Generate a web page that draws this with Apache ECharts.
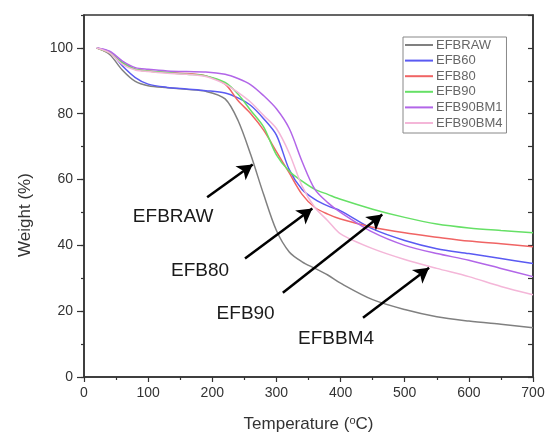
<!DOCTYPE html>
<html>
<head>
<meta charset="utf-8">
<script src="https://cdn.jsdelivr.net/npm/echarts@6/dist/echarts.min.js"></script>
<style>
  html, body { margin: 0; padding: 0; background: #fff; }
  #chart { width: 547px; height: 434px; }
</style>
</head>
<body>
<div id="chart"></div>
<script>
// temperatures shared by all curves (ºC)
const temps = [20, 40, 60, 80, 100, 130, 160, 190, 220, 240, 260, 280, 300, 320, 340, 360, 380, 400, 450, 500, 550, 600, 650, 700];

// weight (%)
const efbRaw   = [100, 98, 93.2, 89.8, 88.5, 87.9, 87.4, 86.8, 84.5, 78, 67.5, 55.5, 44.5, 38, 35, 33, 31, 28.5, 23.5, 20.5, 18.3, 17, 16, 15];
const efb60    = [100, 98.8, 94.5, 91, 89, 88, 87.5, 87, 86.3, 84.8, 82.5, 78.5, 73.5, 63, 57, 54, 52, 50.5, 45, 41.5, 39, 37.5, 36, 34.5];
const efb80    = [100, 98.5, 95.5, 93.5, 93, 92.5, 92.2, 91.5, 89, 84, 80, 75, 68.5, 62, 55.5, 51.5, 49.5, 48, 45.5, 43.8, 42.5, 41.3, 40.5, 39.6];
const efb90    = [100, 98.5, 95.5, 93.5, 93, 92.5, 92, 91.5, 89.5, 86, 81, 76, 67.5, 62.5, 59.5, 57, 55.5, 54, 51, 48.5, 46.5, 45.3, 44.5, 43.8];
const efb90bm1 = [100, 99, 96, 94, 93.5, 93, 92.8, 92.7, 92, 90.7, 88.8, 85.5, 81.5, 75.5, 65.5, 57, 53, 50, 44, 40, 37.5, 35.5, 33, 30.5];
const efb90bm4 = [100, 98.5, 95, 93.3, 92.8, 92.3, 92, 91.3, 89, 86.5, 83.5, 79.5, 75.5, 68, 58, 51.5, 47.5, 43.5, 39, 35.7, 33, 30.5, 27.5, 25];

const names  = ['EFBRAW', 'EFB60', 'EFB80', 'EFB90', 'EFB90BM1', 'EFB90BM4'];
const values = [efbRaw, efb60, efb80, efb90, efb90bm1, efb90bm4];
const colors = ['#808080', '#5a5af2', '#f06464', '#66e066', '#b266e8', '#f4b6d8'];

// arrow annotations (data coordinates)
const noteTexts = ['EFBRAW', 'EFB80', 'EFB90', 'EFBBM4'];
const noteAt    = [[139, 48.8], [181, 32.3], [252, 19.2], [393, 11.6]];
const arrowFrom = [[192, 54.6], [251, 36.0], [310, 25.6], [435, 18.0]];
const arrowTo   = [[263, 64.6], [356, 51.2], [465, 49.4], [538, 33.2]];

const yMajor = [0, 20, 40, 60, 80, 100];

const chart = echarts.init(document.getElementById('chart'));

const txt = '#333';
const font = 'Liberation Sans';

const series = names.map((n, i) => ({
  name: n,
  type: 'line',
  data: temps.map((t, k) => [t, values[i][k]]),
  smooth: 0.3,
  showSymbol: false,
  symbol: 'none',
  lineStyle: { color: colors[i], width: 1.5 },
  itemStyle: { color: colors[i] },
  z: 3
}));

// 箭头和文字
series.push({
  name: 'notes',
  type: 'line',
  data: [],
  silent: true,
  markLine: {
    silent: true,
    symbol: ['none', 'arrow'],
    symbolSize: [13, 15],
    label: { show: false },
    lineStyle: { color: '#000', width: 2.5, type: 'solid' },
    emphasis: { disabled: true },
    data: arrowFrom.map((p, i) => [{ coord: p }, { coord: arrowTo[i] }])
  },
  markPoint: {
    silent: true,
    symbol: 'circle',
    symbolSize: 0,
    label: {
      show: true,
      position: 'inside',
      formatter: p => p.name,
      fontFamily: font,
      fontSize: 19,
      color: '#1a1a1a'
    },
    data: noteTexts.map((t, i) => ({ name: t, coord: noteAt[i] }))
  }
});

chart.setOption({
  animation: false,
  backgroundColor: '#fff',
  grid: {
    left: 84, right: 14, top: 15, bottom: 57,
    outerBoundsMode: 'none',
    show: true, borderColor: '#333', borderWidth: 1.5
  },
  legend: {
    data: names,
    orient: 'vertical',
    left: 403,
    top: 37,
    padding: [1, 4, 3, 2],
    itemGap: 1.6,
    itemWidth: 28,
    itemHeight: 2,
    icon: 'rect',
    borderColor: '#888',
    borderWidth: 1,
    textStyle: { color: '#666', fontSize: 13, fontFamily: font, lineHeight: 14, padding: [0, 0, 0, -2] }
  },
  xAxis: {
    type: 'value',
    min: 0, max: 700, interval: 100,
    name: 'Temperature ({sup|o}C)',
    nameLocation: 'middle',
    nameGap: 38,
    nameTextStyle: {
      color: txt, fontSize: 17, fontFamily: font,
      rich: { sup: { fontSize: 11, verticalAlign: 'top', padding: [0, 0, 8, 0], color: txt, fontFamily: font } }
    },
    axisLine: { lineStyle: { color: '#333', width: 1.5 } },
    axisTick: { length: 5, lineStyle: { color: '#333', width: 1.2 } },
    minorTick: { show: true, splitNumber: 2, length: 3, lineStyle: { color: '#333', width: 1.2 } },
    axisLabel: { color: txt, fontSize: 14, fontFamily: font, margin: 9 },
    splitLine: { show: false }
  },
  yAxis: [
    {
      type: 'value',
      min: 0, max: 110, interval: 20,
      position: 'left',
      name: 'Weight (%)',
      nameLocation: 'middle',
      nameGap: 50,
      nameRotate: 90,
      nameTextStyle: { color: txt, fontSize: 17, fontFamily: font, padding: [0, 38, 0, 0] },
      axisLine: { show: true, lineStyle: { color: '#333', width: 1.5 } },
      axisTick: { show: true, length: 7, customValues: yMajor, lineStyle: { color: '#333', width: 1.2 } },
      axisLabel: { color: txt, fontSize: 14, fontFamily: font, margin: 11, customValues: yMajor },
      splitLine: { show: false }
    },
    {
      type: 'value',
      min: 0, max: 110, interval: 10,
      position: 'left',
      axisLine: { show: false },
      axisTick: { show: true, length: 3, lineStyle: { color: '#333', width: 1.2 } },
      axisLabel: { show: false },
      splitLine: { show: false }
    },
    {
      type: 'value',
      min: 0, max: 110, interval: 10,
      position: 'right',
      axisLine: { show: true, lineStyle: { color: '#333', width: 1.5 } },
      axisTick: { show: true, inside: true, length: 5, lineStyle: { color: '#333', width: 1.2 } },
      axisLabel: { show: false },
      splitLine: { show: false }
    }
  ],
  series: series
});
</script>
</body>
</html>
